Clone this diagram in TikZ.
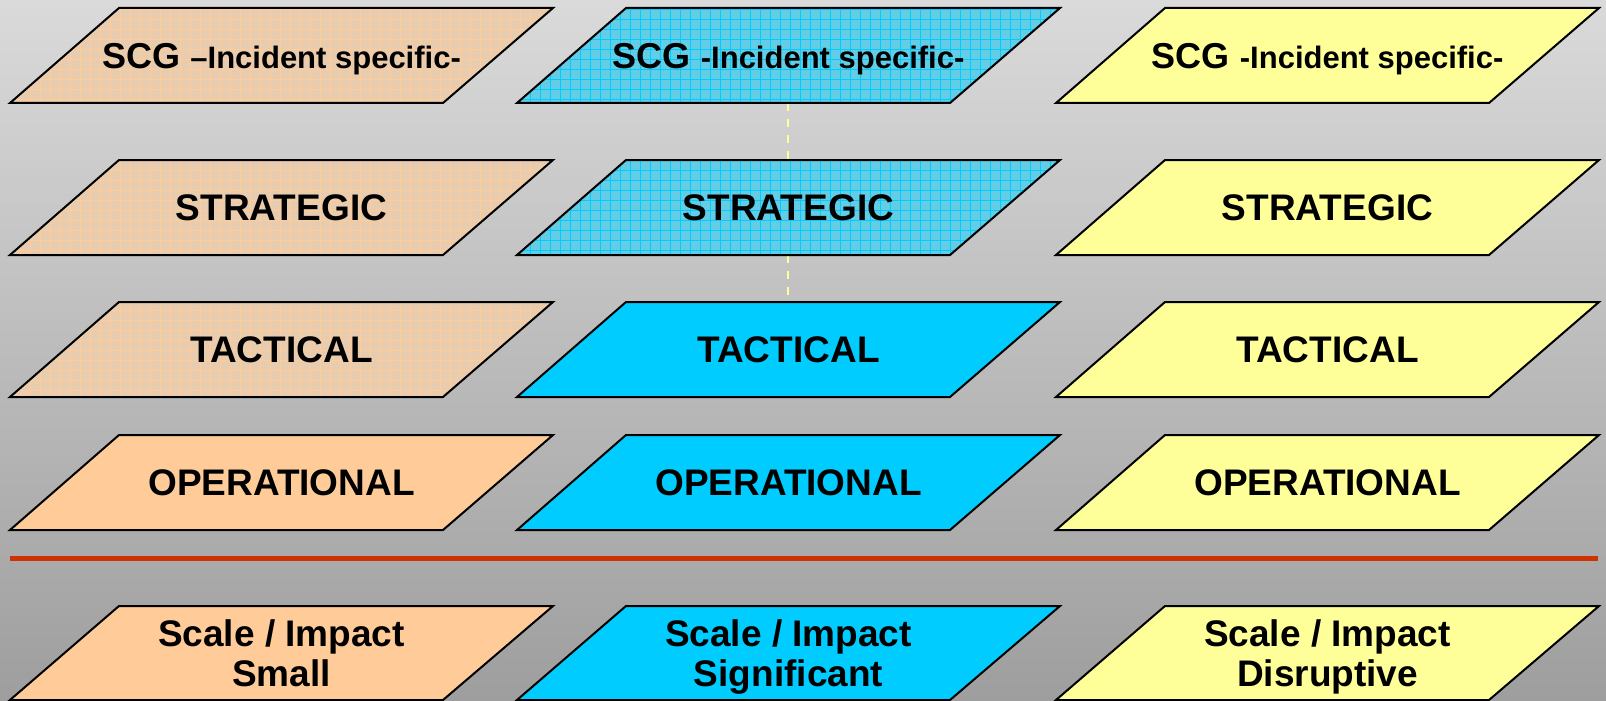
\documentclass[tikz,border=0pt]{standalone}
\usepackage{fontspec}
\setmainfont{Liberation Sans}
\definecolor{peachC}{HTML}{FFCC99}
\definecolor{peachBase}{HTML}{E8CCB0}
\definecolor{blueC}{HTML}{00CCFF}
\definecolor{blueBase}{HTML}{64CDE6}
\definecolor{yellowC}{HTML}{FFFF99}
\definecolor{redC}{HTML}{CC3300}
\definecolor{bgTop}{HTML}{DADADA}
\definecolor{bgBot}{HTML}{9E9E9E}
\begin{document}
\begin{tikzpicture}[x=0.5pt,y=-0.5pt,
  outline/.style={draw=black,line width=1pt,line join=miter},
  peachgrid/.style={outline,fill=peachBase,
    path picture={\draw[peachC,line width=0.5pt]
      (path picture bounding box.south west) grid[step=5pt] (path picture bounding box.north east);}},
  bluegrid/.style={outline,fill=blueBase,
    path picture={\draw[blueC,line width=0.5pt]
      (path picture bounding box.south west) grid[step=5pt] (path picture bounding box.north east);}},
  peach/.style={outline,fill=peachC},
  blue/.style={outline,fill=blueC},
  yellow/.style={outline,fill=yellowC},
  lbl/.style={font=\bfseries\fontsize{18.5pt}{20pt}\selectfont,align=center,inner sep=0pt,text depth=0pt},
  dashline/.style={draw=yellowC,line width=1pt,dash pattern=on 4pt off 4pt},
  redline/.style={draw=redC,line width=2.5pt}
]
\newcommand{\pgram}[6]{%
  \path[#4] (#1,#3) -- (#1+433,#3) -- (#1+543,#2) -- (#1+109,#2) -- cycle;
  \node[lbl] (#5) at (#1+271.5,{(#2+#3)/2}) {#6};
}
\newcommand{\scgtext}[1]{{\fontsize{18pt}{20pt}\selectfont SCG} {\fontsize{15.5pt}{18pt}\selectfont #1Incident specific-}}
% background
\shade[top color=bgTop,bottom color=bgBot] (0,0) rectangle (1606,701);
\useasboundingbox (0,0) rectangle (1606,701);

% dashed connectors in middle column
\coordinate (m1s) at (788,103);
\coordinate (m2n) at (788,160);
\coordinate (m2s) at (788,255);
\coordinate (m3n) at (788,302);
\draw[dashline] (m1s) -- (m2n);
\draw[dashline] (m2s) -- (m3n);

% row 1: SCG
\pgram{10}{8}{103}{peachgrid}{l1}{\scgtext{–}}
\pgram{517}{8}{103}{bluegrid}{c1}{\scgtext{-}}
\pgram{1056}{8}{103}{yellow}{r1}{\scgtext{-}}
% row 2: STRATEGIC
\pgram{10}{160}{255}{peachgrid}{l2}{STRATEGIC}
\pgram{517}{160}{255}{bluegrid}{c2}{STRATEGIC}
\pgram{1056}{160}{255}{yellow}{r2}{STRATEGIC}
% row 3: TACTICAL
\pgram{10}{302}{397}{peachgrid}{l3}{TACTICAL}
\pgram{517}{302}{397}{blue}{c3}{TACTICAL}
\pgram{1056}{302}{397}{yellow}{r3}{TACTICAL}
% row 4: OPERATIONAL
\pgram{10}{435}{530}{peach}{l4}{OPERATIONAL}
\pgram{517}{435}{530}{blue}{c4}{OPERATIONAL}
\pgram{1056}{435}{530}{yellow}{r4}{OPERATIONAL}

% red separator
\coordinate (sepL) at (10,558);
\coordinate (sepR) at (1598,558);
\draw[redline] (sepL) -- (sepR);

% row 5: scale / impact
\pgram{10}{606}{700}{peach}{l5}{Scale / Impact\\Small}
\pgram{517}{606}{700}{blue}{c5}{Scale / Impact\\Significant}
\pgram{1056}{606}{700}{yellow}{r5}{Scale / Impact\\Disruptive}
\end{tikzpicture}
\end{document}
